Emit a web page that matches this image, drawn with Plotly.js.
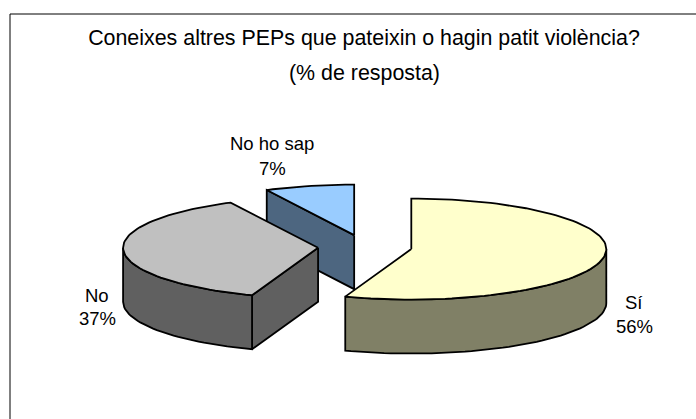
<!DOCTYPE html>
<html>
<head>
<meta charset="utf-8">
<script src="https://cdn.plot.ly/plotly-3.0.1.min.js"></script>
<style>html,body{margin:0;padding:0;background:#fff}#chart{width:696px;height:419px}</style>
</head>
<body>
<div id="chart"></div>
<script>
// Data (labels round to 56 / 37 / 7)
var categories = ['Sí', 'No', 'No ho sap'];
var values = [55.5, 37.1, 7.4];
var topColors = ['#FFFFCC', '#C0C0C0', '#99CCFF'];
var wallColors = ['#808066', '#606060', '#4D6680'];
var titleLines = ['Coneixes altres PEPs que pateixin o hagin patit violència?', '(% de resposta)'];
var labelX = [634, 97, 272];
var nameY = [302, 295, 143];
var pctY = [326, 318, 168];
var drawOrder = [2, 1, 0];

// Projection of the exploded pie
var CX = 365, CY = 247, RX = 195, RY = 50.5, PULL = 47, DEPTH = 54, STEP = 2;
var FONT = 'Liberation Sans, Arial, sans-serif';
var total = values.reduce(function (a, b) { return a + b; }, 0);
var groups = [];

function rim(c, deg) {
  var t = deg * Math.PI / 180;
  return [c[0] + RX * Math.sin(t), c[1] - RY * Math.cos(t)];
}
function polygon(pts, color, name) {
  var closed = pts.concat([pts[0]]);
  return {
    type: 'scatter', mode: 'lines', name: name, hoverinfo: 'skip', showlegend: false,
    x: closed.map(function (p) { return p[0]; }),
    y: closed.map(function (p) { return p[1]; }),
    fill: 'toself', fillcolor: color,
    line: { color: '#000000', width: 1.8, shape: 'linear' }
  };
}
function wall(run, color, name) {
  var down = run.slice().reverse().map(function (p) { return [p[0], p[1] + DEPTH]; });
  return polygon(run.concat(down), color, name);
}

var start = 0;
values.forEach(function (v, i) {
  var sweep = v / total * 360, end = start + sweep, mid = start + sweep / 2;
  var m = mid * Math.PI / 180;
  var c = [CX + PULL * Math.sin(m), CY - PULL * RY / RX * Math.cos(m)];
  var arc = [];
  for (var d = start; d < end; d += STEP) arc.push(rim(c, d));
  arc.push(rim(c, end));
  var outline = [c].concat(arc);
  var closed = outline.concat([c]);
  var group = [];
  var run = [];
  var flush = function () {
    if (run.length > 1) group.push(wall(run, wallColors[i], categories[i] + ' wall'));
    run = [];
  };
  // Visible faces: outline edges that run right-to-left on screen
  for (var k = 0; k < closed.length - 1; k++) {
    var p = closed[k], q = closed[k + 1];
    var isRadial = (k === 0) || (k === closed.length - 2);
    if (q[0] < p[0] - 1e-6) {
      if (isRadial) { flush(); run = [p, q]; flush(); }
      else { if (!run.length) run.push(p); run.push(q); }
    } else { flush(); }
  }
  flush();
  group.push(polygon(outline, topColors[i], categories[i]));
  groups[i] = group;
  start = end;
});
var traces = [];
drawOrder.forEach(function (i) { traces = traces.concat(groups[i]); });

function note(text, x, y, size) {
  return { x: x, y: y, xref: 'x', yref: 'y', showarrow: false, xanchor: 'center', yanchor: 'middle',
    text: text, font: { family: FONT, size: size, color: '#000' } };
}
var annotations = [note(titleLines[1], 364, 73, 21.4)];
categories.forEach(function (name, i) {
  annotations.push(note(name, labelX[i], nameY[i], 18.5));
  annotations.push(note(Math.round(values[i]) + '%', labelX[i], pctY[i], 18.5));
});

var layout = {
  width: 696, height: 419,
  margin: { l: 0, r: 0, t: 0, b: 0 },
  paper_bgcolor: '#fff', plot_bgcolor: '#fff',
  showlegend: false,
  title: {
    text: titleLines[0],
    x: 364 / 696, xanchor: 'center', y: 1 - 38 / 419, yref: 'paper', yanchor: 'middle',
    font: { family: FONT, size: 21.4, color: '#000' }
  },
  xaxis: { range: [0, 696], visible: false, fixedrange: true },
  yaxis: { range: [419, 0], visible: false, fixedrange: true },
  annotations: annotations,
  shapes: [{ type: 'rect', xref: 'x', yref: 'y', x0: 10, y0: 14, x1: 720, y1: 440,
    line: { color: '#000', width: 1 }, layer: 'below' }]
};
Plotly.newPlot('chart', traces, layout, { displayModeBar: false, staticPlot: true });
</script>
</body>
</html>
